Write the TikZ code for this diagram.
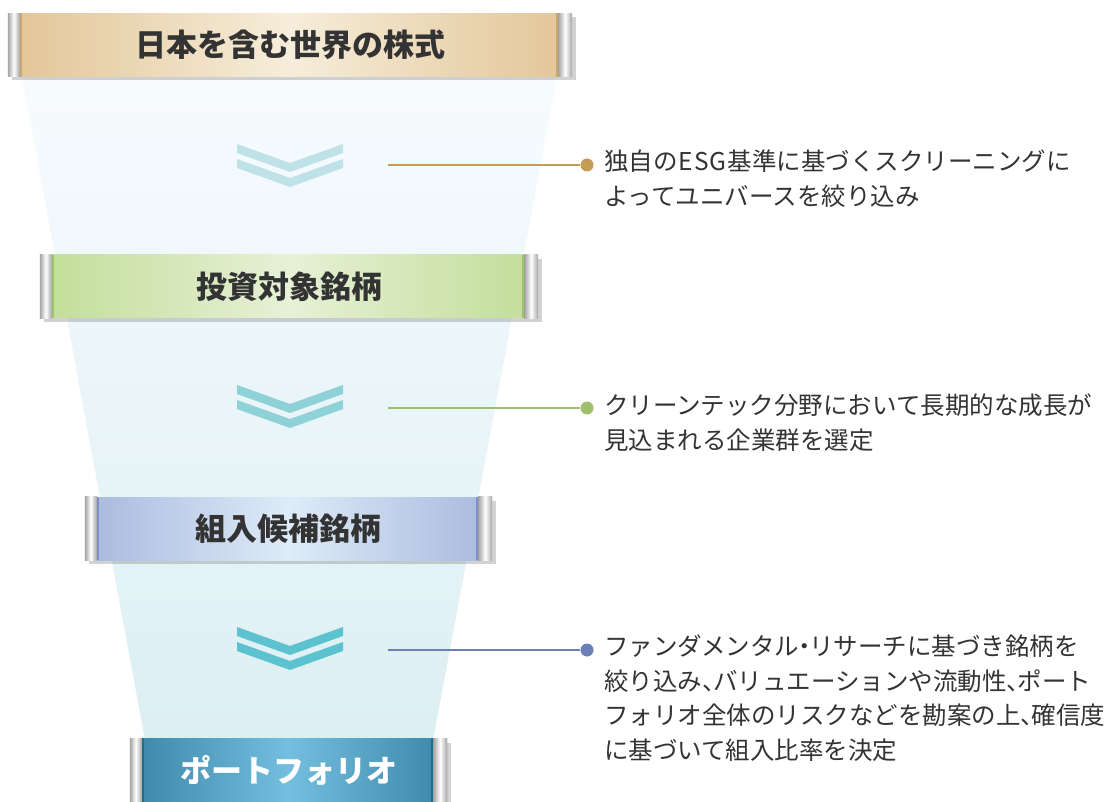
\documentclass[tikz,border=0pt]{standalone}
\usepackage{fontspec}
\newfontfamily\jp{Noto Sans CJK JP}
\usetikzlibrary{shadows}
\definecolor{txtgray}{HTML}{333333}
\definecolor{capgray}{HTML}{A4A4A4}
\definecolor{tanA}{HTML}{E2C596}\definecolor{tanB}{HTML}{F6EDDA}\definecolor{tanE}{HTML}{C9A86E}
\definecolor{grnA}{HTML}{C2DD98}\definecolor{grnB}{HTML}{E6F1D6}\definecolor{grnE}{HTML}{9CC46A}
\definecolor{bluA}{HTML}{A8B8DD}\definecolor{bluB}{HTML}{DEEBF8}\definecolor{bluE}{HTML}{7D8FC6}
\definecolor{tealA}{HTML}{3B86A7}\definecolor{tealB}{HTML}{74BEE0}\definecolor{tealE}{HTML}{1E6E90}
\definecolor{funTop}{HTML}{F7FBFE}\definecolor{funBot}{HTML}{DCEFF3}
\definecolor{chevA}{HTML}{BEE2E8}\definecolor{chevB}{HTML}{8ED1D6}\definecolor{chevC}{HTML}{5DC2CF}
\definecolor{dotA}{HTML}{C49C55}\definecolor{dotB}{HTML}{9DBF6E}\definecolor{dotC}{HTML}{6B80B6}
\tikzset{
  barbox/.style n args={2}{draw=none, minimum height=63pt, inner sep=0pt,
    left color=#1, right color=#1, middle color=#2,
    font=\jp\bfseries\fontsize{31}{36}\selectfont, text=txtgray,
    drop shadow={opacity=0.35, shadow xshift=4pt, shadow yshift=-4pt}},
  sidetext/.style={anchor=north west, align=left, inner sep=0pt, text=txtgray,
    font=\jp\fontsize{24.5}{34.5}\selectfont},
  dotnode/.style={circle, fill=#1, minimum size=13pt, inner sep=0pt},
  leader/.style={draw=#1, line width=1.2pt}
}
\newcommand{\chevronpair}[2]{%
  \fill[#2] (237,#1) -- (290,#1+19) -- (343,#1) -- (343,#1+9) -- (290,#1+28) -- (237,#1+9) -- cycle;
  \fill[#2] (237,#1+15) -- (290,#1+34) -- (343,#1+15) -- (343,#1+24) -- (290,#1+43) -- (237,#1+24) -- cycle;}
\newcommand{\barcaps}[2]{%
  \shade[left color=capgray, right color=capgray, middle color=white]
    (#1.north west) rectangle ([xshift=12pt]#1.south west);
  \shade[left color=capgray, right color=capgray, middle color=white]
    ([xshift=-14pt]#1.north east) rectangle (#1.south east);
  \fill[#2] ([xshift=12pt]#1.north west) rectangle ([xshift=14pt]#1.south west);
  \fill[#2] ([xshift=-16pt]#1.north east) rectangle ([xshift=-14pt]#1.south east);}
\newcommand{\tou}{、\kern-0.55em}
\newcommand{\nakaguro}{\kern-0.3em・\kern-0.3em}
\begin{document}
\begin{tikzpicture}[x=1pt,y=-1pt]
\useasboundingbox (0,0) rectangle (1106,802);
\fill[white] (0,0) rectangle (1106,802);
% funnel
\shade[top color=funTop, bottom color=funBot] (22,77) -- (557,77) -- (433,740) -- (145,740) -- cycle;
% chevrons
\chevronpair{144}{chevA}
\chevronpair{385}{chevB}
\chevronpair{627}{chevC}
% bars
\node[barbox={tanA}{tanB}, minimum width=564pt] (b1) at (290,45) {日本を含む世界の株式};
\barcaps{b1}{tanE}
\node[barbox={grnA}{grnB}, minimum width=498pt] (b2) at (289,286.5) {投資対象銘柄};
\barcaps{b2}{grnE}
\node[barbox={bluA}{bluB}, minimum width=407pt] (b3) at (288.5,528.5) {組入候補銘柄};
\barcaps{b3}{bluE}
\node[barbox={tealA}{tealB}, minimum width=317pt, text=white] (b4) at (288.5,770) {ポートフォリオ};
\barcaps{b4}{tealE}
% leaders
\coordinate (l1) at (388,165);
\coordinate (l2) at (388,408);
\coordinate (l3) at (388,650);
\node[dotnode=dotA] (d1) at (587,165) {};
\node[dotnode=dotB] (d2) at (587,408) {};
\node[dotnode=dotC] (d3) at (587,650) {};
\draw[leader=dotA] (l1) -- (d1);
\draw[leader=dotB] (l2) -- (d2);
\draw[leader=dotC] (l3) -- (d3);
% texts
\node[sidetext] (t1) at (604,150) {独自の\kern1pt E\kern1pt S\kern1pt G\kern1pt 基準に基づくスクリーニングに\\よってユニバースを絞り込み};
\node[sidetext] (t2) at (604,394) {クリーンテック分野において長期的な成長が\\見込まれる企業群を選定};
\node[sidetext] (t3) at (604,635) {ファンダメンタル\nakaguro リサーチに基づき銘柄を\\絞り込み\tou バリュエーションや流動性\tou ポート\\フォリオ全体のリスクなどを勘案の上\tou 確信度\\に基づいて組入比率を決定};
\end{tikzpicture}
\end{document}
